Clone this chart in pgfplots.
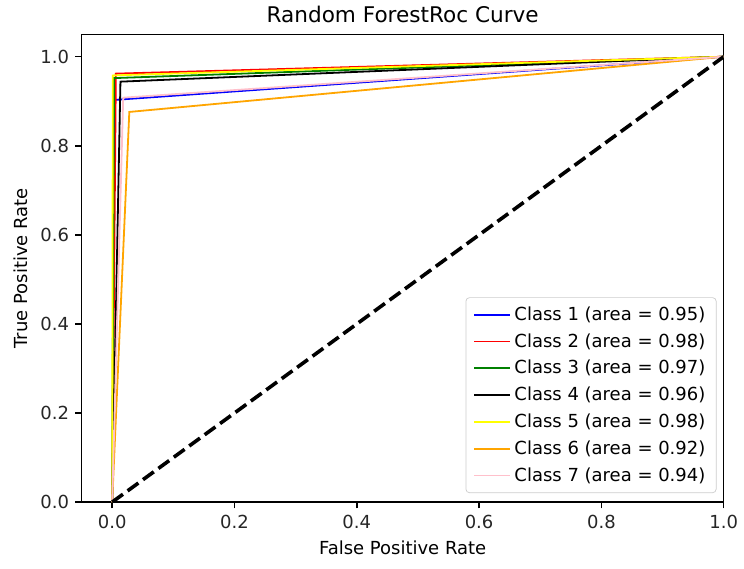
\documentclass[border=0pt]{standalone}
\usepackage{pgfplots}
\pgfplotsset{compat=1.18}
\usepackage{fontspec}
\setmainfont{DejaVu Sans}
\definecolor{mplgreen}{HTML}{008000}
\definecolor{mplorange}{HTML}{FFA500}
\definecolor{mplpink}{HTML}{FFC0CB}
\definecolor{mplblue}{HTML}{0000FF}
\definecolor{mplred}{HTML}{FF0000}
\definecolor{mplyellow}{HTML}{FFFF00}
\begin{document}
\begin{tikzpicture}
\begin{axis}[
  scale only axis, width=357pt, height=260pt,
  xmin=-0.05, xmax=1.0, ymin=0, ymax=1.05,
  xtick={0,0.2,0.4,0.6,0.8,1.0}, ytick={0,0.2,0.4,0.6,0.8,1.0},
  tick align=outside, tick pos=left, major tick length=3.5pt,
  every tick/.style={black, line width=0.8pt},
  axis line style={line width=0.8pt},
  /pgf/number format/.cd, fixed, fixed zerofill, precision=1, assume math mode=true, /pgfplots/.cd,
  tick label style={font=\fontsize{10}{12}\selectfont, text=black!85},
  title={Random ForestRoc Curve},
  title style={font=\fontsize{12}{14}\selectfont, yshift=-3pt},
  xlabel={False Positive Rate}, ylabel={True Positive Rate},
  label style={font=\fontsize{10}{12}\selectfont},
  legend style={at={(axis description cs:1,0)}, anchor=south east, xshift=-4pt, yshift=5pt,
    font=\fontsize{10}{12}\selectfont, draw=black!20, rounded corners=2pt,
    row sep=1.8pt, inner xsep=4pt, inner ysep=3pt, fill=white},
  legend cell align=left,
  legend image code/.code={\draw[#1, line width=1pt] (0pt,0pt) -- (20pt,0pt);},
]
\addplot[mplblue, line width=1pt] coordinates {(0,0) (0.004,0.903) (1,1)};
\addlegendentry{Class 1 (area = 0.95)}
\addplot[mplred, line width=1pt] coordinates {(0,0) (0.006,0.962) (1,1)};
\addlegendentry{Class 2 (area = 0.98)}
\addplot[mplgreen, line width=1pt] coordinates {(0,0) (0.003,0.952) (1,1)};
\addlegendentry{Class 3 (area = 0.97)}
\addplot[black, line width=1pt] coordinates {(0,0) (0.0135,0.944) (1,1)};
\addlegendentry{Class 4 (area = 0.96)}
\addplot[mplyellow, line width=1pt] coordinates {(0,0) (0.001,0.958) (1,1)};
\addlegendentry{Class 5 (area = 0.98)}
\addplot[mplorange, line width=1pt] coordinates {(0,0) (0.028,0.876) (1,1)};
\addlegendentry{Class 6 (area = 0.92)}
\addplot[mplpink, line width=1pt] coordinates {(0,0) (0.018,0.908) (1,1)};
\addlegendentry{Class 7 (area = 0.94)}
\addplot[black, line width=2pt, dash pattern=on 7.4pt off 3.2pt, forget plot] coordinates {(0,0) (1,1)};
\end{axis}
\path (current bounding box.south west) ++(-4.5pt,-4.5pt) coordinate (pad);
\node[inner sep=0pt, minimum size=0pt] at (pad) {};
\end{tikzpicture}
\end{document}
